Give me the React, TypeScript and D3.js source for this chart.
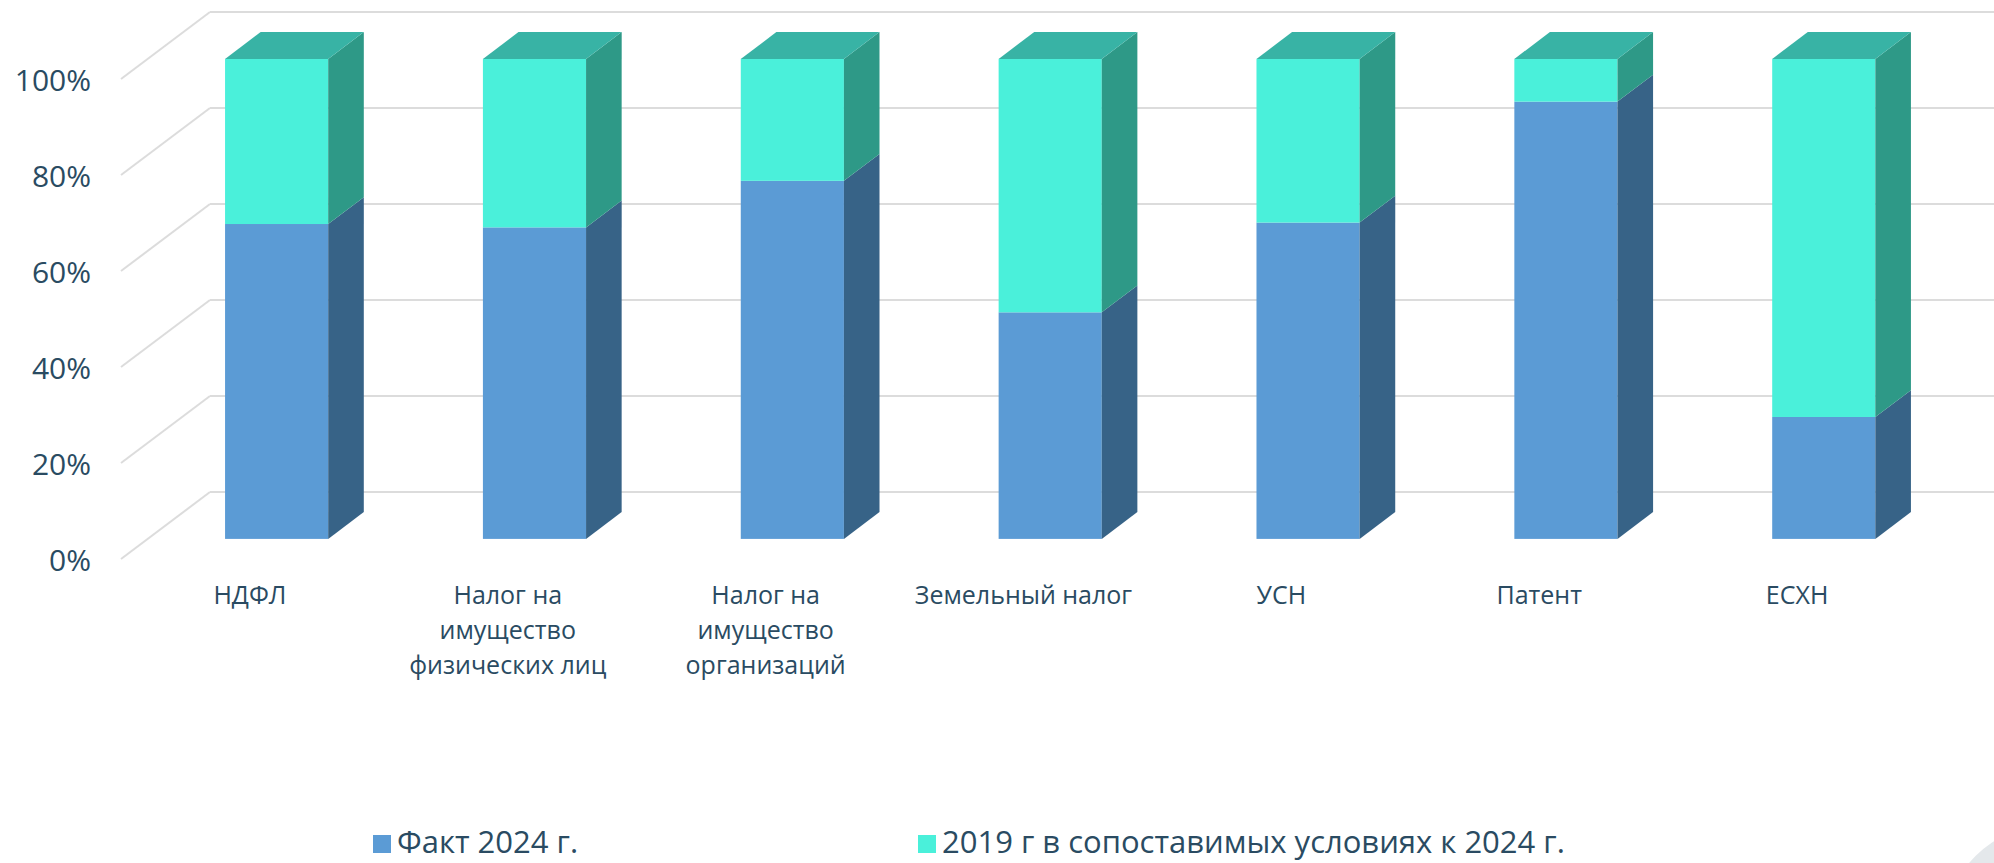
import React, { useEffect, useRef } from 'react'
import * as d3 from 'd3'

const categories = [
  'НДФЛ',
  'Налог на имущество физических лиц',
  'Налог на имущество организаций',
  'Земельный налог',
  'УСН',
  'Патент',
  'ЕСХН',
]
// wrapped label lines, same order as categories
const categoryLines = [
  ['НДФЛ'],
  ['Налог на', 'имущество', 'физических лиц'],
  ['Налог на', 'имущество', 'организаций'],
  ['Земельный налог'],
  ['УСН'],
  ['Патент'],
  ['ЕСХН'],
]
const fact2024 = [65.6, 64.9, 74.6, 47.2, 65.9, 91.1, 25.4]
const base2019 = fact2024.map(v => 100 - v)
const yTicks = [0, 20, 40, 60, 80, 100]
const seriesNames = ['Факт 2024 г.', '2019 г в сопоставимых условиях к 2024 г.']

const W = 1994
const H = 863
const textColor = '#2a4b62'
const font = '"Open Sans", sans-serif'

const App: React.FC = () => {
  const svgRef = useRef(null)

  useEffect(() => {
    if (!svgRef.current) return
    const svg = d3.select(svgRef.current)
    svg.selectAll('*').remove()

    const x = d3.scaleBand<string>().domain(categories).range([121, 1926]).padding(0)
    const y = d3.scaleLinear().domain([0, 100]).range([559, 79])

    // oblique depth of the plot box
    const depthX = 89
    const depthY = -67
    const d0 = 0.3
    const d1 = 0.7
    const barW = x.bandwidth() * 0.4

    // grid: side diagonals + back wall lines
    const grid = svg.append('g').attr('stroke', '#dcdcdc').attr('stroke-width', 2).attr('fill', 'none')
    yTicks.forEach(t => {
      grid.append('line')
        .attr('x1', 121).attr('y1', y(t))
        .attr('x2', 121 + depthX).attr('y2', y(t) + depthY)
      grid.append('line')
        .attr('x1', 121 + depthX).attr('y1', y(t) + depthY)
        .attr('x2', W).attr('y2', y(t) + depthY)
    })

    svg.append('g')
      .selectAll('text')
      .data(yTicks)
      .join('text')
      .attr('x', 91)
      .attr('y', d => y(d) + 4)
      .attr('text-anchor', 'end')
      .attr('dominant-baseline', 'middle')
      .attr('font-family', font)
      .attr('font-size', 30)
      .attr('fill', textColor)
      .text(d => `${d}%`)

    const stack = d3.stack<number>()
      .keys(['fact', 'base'])
      .value((i, key) => (key === 'fact' ? fact2024[i] : base2019[i]))
    const series = stack(d3.range(categories.length))

    const colors = [
      { front: '#5b9bd5', side: '#376387', top: '#4a80b0' },
      { front: '#4af0da', side: '#2e9987', top: '#38b3a5' },
    ]

    const ox = depthX * d0
    const oy = depthY * d0
    const sx = depthX * (d1 - d0)
    const sy = depthY * (d1 - d0)

    const bars = svg.append('g')
    categories.forEach((cat, i) => {
      const left = (x(cat) as number) + x.bandwidth() / 2 - barW / 2 + ox
      const right = left + barW
      series.forEach((s, si) => {
        const [v0, v1] = s[i]
        if (v1 - v0 <= 0) return
        const yb = y(v0) + oy
        const yt = y(v1) + oy
        const c = colors[si]
        bars.append('rect')
          .attr('x', left).attr('y', yt)
          .attr('width', barW).attr('height', yb - yt)
          .attr('fill', c.front)
        bars.append('path')
          .attr('d', `M${right},${yb}L${right + sx},${yb + sy}L${right + sx},${yt + sy}L${right},${yt}Z`)
          .attr('fill', c.side)
        if (si === series.length - 1) {
          bars.append('path')
            .attr('d', `M${left},${yt}L${left + sx},${yt + sy}L${right + sx},${yt + sy}L${right},${yt}Z`)
            .attr('fill', c.top)
        }
      })
    })

    // category labels
    const labels = svg.append('g')
      .attr('font-family', font)
      .attr('font-size', 25)
      .attr('fill', textColor)
      .attr('text-anchor', 'middle')
    categories.forEach((cat, i) => {
      const cx = (x(cat) as number) + x.bandwidth() / 2
      const t = labels.append('text').attr('x', cx).attr('y', 604)
      categoryLines[i].forEach((line, li) => {
        t.append('tspan').attr('x', cx).attr('dy', li === 0 ? 0 : 35).text(line)
      })
    })

    // legend
    const legendX = [373, 918]
    const legend = svg.append('g').attr('font-family', font).attr('font-size', 31).attr('fill', textColor)
    seriesNames.forEach((name, i) => {
      legend.append('rect')
        .attr('x', legendX[i]).attr('y', 835)
        .attr('width', 18).attr('height', 18)
        .attr('fill', colors[i].front)
      legend.append('text')
        .attr('x', legendX[i] + 24).attr('y', 853)
        .text(name)
    })

    // faint decoration in the bottom-right corner
    svg.append('circle')
      .attr('cx', 2050).attr('cy', 930)
      .attr('r', 105)
      .attr('fill', '#e4e8eb')
  }, [])

  return (
    <div style={{ position: 'absolute', left: 0, top: 0 }}>
      <svg ref={svgRef} width={W} height={H} style={{ display: 'block', background: '#fff' }} />
    </div>
  )
}

export default App
